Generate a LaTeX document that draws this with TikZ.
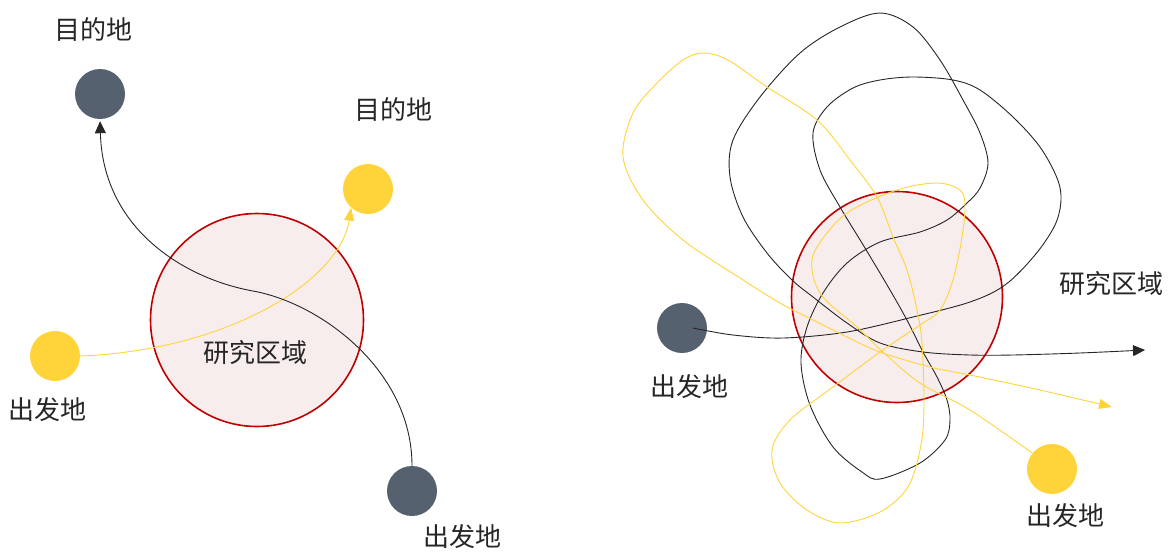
\documentclass[tikz,border=0pt]{standalone}
\usepackage{fontspec}
\setmainfont{Noto Sans CJK SC}
\usetikzlibrary{arrows.meta,calc}
\definecolor{darkc}{HTML}{56616F}
\definecolor{yel}{HTML}{FFD43B}
\definecolor{pinkf}{HTML}{F8EDED}
\definecolor{redb}{HTML}{C00000}
\begin{document}
\begin{tikzpicture}[x=1pt,y=-1pt,
  darkdot/.style={circle,fill=darkc,minimum size=50pt,inner sep=0pt},
  yeldot/.style={circle,fill=yel,minimum size=50pt,inner sep=0pt},
  area/.style={circle,draw=redb,line width=1.6pt,fill=pinkf,minimum size=213pt,inner sep=0pt},
  lbl/.style={font=\fontsize{26}{30}\selectfont,text=black!85,inner sep=0pt},
  blk/.style={draw=black!85,line width=0.9pt},
  ylw/.style={draw=yel,line width=0.9pt},
  btip/.style={-{Triangle[length=12pt,width=11pt]}},
  ytip/.style={-{Triangle[length=13pt,width=10pt]}}]
\useasboundingbox (0,0) rectangle (1169,552);

% ---------- left panel ----------
\node[area] (la) at (257,320) {};
\node[lbl] (latxt) at (255,353) {研究区域};
\node[darkdot] (ldd) at (100,94) {};
\node[lbl] (lddl) at (93,29) {目的地};
\node[yeldot] (lyd) at (368,189) {};
\node[lbl] (lydl) at (393,109) {目的地};
\node[yeldot] (lyo) at (55,356) {};
\node[lbl] (lyol) at (48,410) {出发地};
\node[darkdot] (ldo) at (412,491) {};
\node[lbl] (ldol) at (462,537) {出发地};

\draw[ylw,ytip] (lyo.east) .. controls (230,350) and (340,280) .. (lyd.228);
\draw[blk,btip,shorten >=2pt] (ldo.north) .. controls (412,370) and (320,303) .. (253,291)
  .. controls (186,279) and (103,230) .. (ldd.south);

% ---------- right panel ----------
\node[area,minimum size=211pt] (ra) at (897,297) {};
\node[lbl] (ratxt) at (1111,284) {研究区域};
\node[darkdot] (rdo) at (682,328) {};
\node[lbl] (rdol) at (689,387) {出发地};
\node[yeldot] (ryo) at (1052,469) {};
\node[lbl] (ryol) at (1065,516) {出发地};

\coordinate (bs) at ($(rdo.center)+(11,0)$);
\coordinate (be) at (1145,350);
\coordinate (ys) at (ryo.141);
\coordinate (ye) at (1112,407);

\draw[blk,btip] plot[smooth,tension=0.55] coordinates {
 (bs) (733,335) (783,338) (847,332) (913,317) (970,302) (1005,285) (1035,255) (1055,225)
 (1061,200) (1057,178) (1040,147) (1013,117) (980,90) (953,80) (913,77) (880,80)
 (853,88) (827,107) (813,133) (820,170) (840,207) (865,248) (890,290) (908,322)
 (923,352) (937,377) (947,400) (950,420) (945,440) (920,463) (880,479) (862,472)
 (833,447) (810,405) (801,363) (807,327) (823,293) (847,263) (880,242) (920,232)
 (947,220) (967,203) (980,188) (988,163) (980,133) (963,100) (940,60) (913,27)
 (880,13) (840,27) (800,53) (760,97) (733,140) (730,177) (743,217) (767,253)
 (792,280) (813,297) (847,323) (880,343) (923,352) (970,355) (1013,355) (1080,353) (be)};

\draw[ylw,ytip] plot[smooth,tension=0.55] coordinates {
 (ys) (970,410) (920,383) (883,352) (857,327) (823,297) (812,270) (817,247) (847,213)
 (897,190) (937,183) (960,190) (965,205) (962,237) (953,280) (940,310) (920,325)
 (880,352) (833,387) (790,420) (772,450) (780,483) (807,510) (840,523) (880,512)
 (908,487) (921,445) (924,403) (922,343) (917,310) (907,270) (893,237) (877,197)
 (850,160) (817,120) (767,87) (728,60) (703,53) (683,60) (657,83) (633,113)
 (623,157) (643,200) (683,240) (740,278) (780,303) (813,320) (847,337) (880,352)
 (930,367) (970,375) (1040,390) (ye)};
\end{tikzpicture}
\end{document}
